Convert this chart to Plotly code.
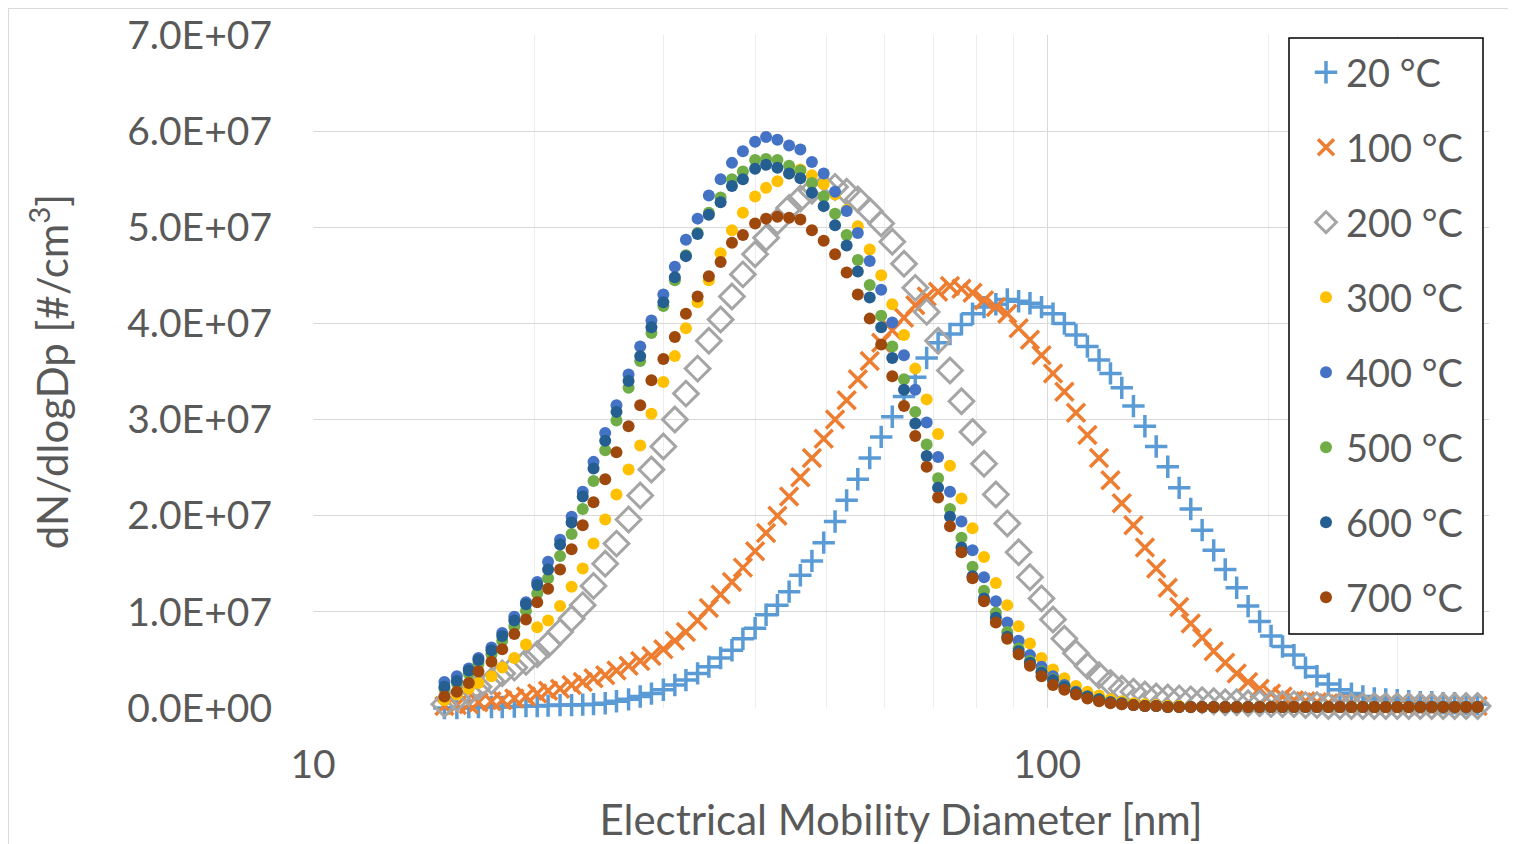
import plotly.graph_objects as go

# Electrical mobility diameter channels [nm] (SMPS, 64 channels/decade)
DP = [15.1, 15.7, 16.3, 16.8, 17.5, 18.1, 18.8, 19.5, 20.2, 20.9, 21.7, 22.5, 23.3, 24.1,
      25.0, 25.9, 26.9, 27.9, 28.9, 30.0, 31.1, 32.2, 33.4, 34.6, 35.9, 37.2, 38.5, 40.0,
      41.4, 42.9, 44.5, 46.1, 47.8, 49.6, 51.4, 53.3, 55.2, 57.3, 59.4, 61.5, 63.8, 66.1,
      68.5, 71.0, 73.7, 76.4, 79.1, 82.0, 85.1, 88.2, 91.4, 94.7, 98.2, 101.8, 105.5, 109.4,
      113.4, 117.6, 121.9, 126.3, 131.0, 135.8, 140.7, 145.9, 151.2, 156.8, 162.5, 168.5,
      174.7, 181.1, 187.7, 194.6, 201.7, 209.1, 216.7, 224.7, 232.9, 241.4, 250.3, 259.5,
      269.0, 278.8, 289.0, 299.6, 310.6, 322.0, 333.8, 346.0, 358.7, 371.8, 385.4, 399.5]

SCALE = 1e7  # values below are in units of 1E+07 #/cm3

T20 = [0.00, 0.00, 0.01, 0.01, 0.01, 0.01, 0.015, 0.02, 0.02, 0.025, 0.03, 0.03, 0.035, 0.04,
       0.05, 0.07, 0.09, 0.12, 0.15, 0.19, 0.24, 0.29, 0.36, 0.43, 0.52, 0.60, 0.72, 0.83,
       0.97, 1.07, 1.21, 1.38, 1.53, 1.72, 1.94, 2.16, 2.38, 2.60, 2.82, 3.03, 3.24, 3.44,
       3.64, 3.80, 3.89, 3.99, 4.10, 4.17, 4.20, 4.25, 4.23, 4.21, 4.17, 4.10, 4.00, 3.88,
       3.76, 3.62, 3.48, 3.33, 3.14, 2.93, 2.72, 2.51, 2.29, 2.07, 1.85, 1.64, 1.44, 1.25,
       1.06, 0.90, 0.75, 0.64, 0.55, 0.42, 0.33, 0.25, 0.19, 0.15, 0.12, 0.10, 0.09, 0.08,
       0.07, 0.06, 0.06, 0.05, 0.05, 0.04, 0.04, 0.03]

T100 = [0.02, 0.03, 0.04, 0.06, 0.07, 0.08, 0.10, 0.12, 0.15, 0.18, 0.20, 0.24, 0.27, 0.31,
        0.34, 0.39, 0.44, 0.49, 0.54, 0.61, 0.70, 0.79, 0.91, 1.04, 1.18, 1.31, 1.46, 1.63,
        1.82, 2.00, 2.20, 2.40, 2.60, 2.80, 3.00, 3.20, 3.42, 3.61, 3.80, 3.93, 4.06, 4.19,
        4.28, 4.33, 4.39, 4.36, 4.32, 4.24, 4.17, 4.10, 3.95, 3.83, 3.67, 3.48, 3.29, 3.07,
        2.84, 2.60, 2.37, 2.13, 1.90, 1.67, 1.45, 1.25, 1.05, 0.88, 0.73, 0.59, 0.47, 0.36,
        0.27, 0.20, 0.15, 0.12, 0.08, 0.07, 0.06, 0.05, 0.04, 0.04, 0.03, 0.03, 0.03, 0.02,
        0.02, 0.02, 0.02, 0.02, 0.02, 0.02, 0.02, 0.02]

T200 = [0.04, 0.10, 0.16, 0.22, 0.28, 0.36, 0.42, 0.48, 0.56, 0.66, 0.79, 0.93, 1.07, 1.27,
        1.50, 1.71, 1.96, 2.21, 2.48, 2.72, 3.00, 3.27, 3.53, 3.82, 4.04, 4.28, 4.51, 4.72,
        4.89, 5.06, 5.20, 5.30, 5.38, 5.42, 5.42, 5.37, 5.29, 5.17, 5.04, 4.85, 4.62, 4.37,
        4.12, 3.82, 3.51, 3.19, 2.87, 2.54, 2.22, 1.92, 1.62, 1.36, 1.14, 0.92, 0.72, 0.57,
        0.44, 0.34, 0.26, 0.20, 0.17, 0.14, 0.12, 0.11, 0.10, 0.09, 0.08, 0.07, 0.06, 0.06,
        0.05, 0.05, 0.04, 0.04, 0.04, 0.03, 0.03, 0.02, 0.02, 0.02, 0.02, 0.02, 0.02, 0.02,
        0.02, 0.02, 0.02, 0.02, 0.02, 0.02, 0.02, 0.02]

T300 = [0.08, 0.14, 0.20, 0.26, 0.33, 0.42, 0.52, 0.66, 0.84, 0.91, 1.06, 1.26, 1.45, 1.71,
        1.96, 2.22, 2.48, 2.73, 3.06, 3.39, 3.66, 3.95, 4.22, 4.45, 4.73, 4.97, 5.15, 5.32,
        5.41, 5.48, 5.56, 5.60, 5.54, 5.45, 5.34, 5.18, 5.01, 4.77, 4.50, 4.20, 3.88, 3.53,
        3.21, 2.85, 2.52, 2.18, 1.87, 1.57, 1.30, 1.07, 0.85, 0.67, 0.52, 0.40, 0.31, 0.23,
        0.17, 0.13, 0.09, 0.07, 0.05, 0.04, 0.03, 0.02, 0.02, 0.01, 0.01, 0.01, 0.01, 0.01,
        0.01, 0.01, 0.01, 0.01, 0.01, 0.01, 0.01, 0.01, 0.01, 0.01, 0.01, 0.01, 0.01, 0.01,
        0.01, 0.01, 0.01, 0.01, 0.01, 0.01, 0.01, 0.01]

T400 = [0.27, 0.33, 0.41, 0.52, 0.63, 0.78, 0.95, 1.10, 1.31, 1.52, 1.75, 1.99, 2.25, 2.56,
        2.86, 3.15, 3.47, 3.76, 4.03, 4.30, 4.59, 4.87, 5.09, 5.33, 5.50, 5.67, 5.79, 5.89,
        5.94, 5.91, 5.85, 5.81, 5.68, 5.56, 5.37, 5.17, 4.94, 4.65, 4.35, 4.01, 3.67, 3.31,
        2.97, 2.61, 2.25, 1.94, 1.64, 1.36, 1.11, 0.89, 0.70, 0.55, 0.43, 0.33, 0.24, 0.17,
        0.12, 0.08, 0.06, 0.04, 0.03, 0.02, 0.02, 0.01, 0.01, 0.01, 0.01, 0.01, 0.01, 0.01,
        0.01, 0.01, 0.01, 0.01, 0.01, 0.01, 0.01, 0.01, 0.01, 0.01, 0.01, 0.01, 0.01, 0.01,
        0.01, 0.01, 0.01, 0.01, 0.01, 0.01, 0.01, 0.01]

T500 = [0.20, 0.26, 0.36, 0.46, 0.56, 0.70, 0.85, 1.01, 1.19, 1.35, 1.58, 1.81, 2.07, 2.36,
        2.68, 2.99, 3.33, 3.61, 3.90, 4.18, 4.45, 4.71, 4.94, 5.15, 5.31, 5.50, 5.58, 5.70,
        5.71, 5.70, 5.64, 5.59, 5.46, 5.32, 5.14, 4.92, 4.66, 4.40, 4.08, 3.76, 3.42, 3.08,
        2.74, 2.39, 2.07, 1.77, 1.47, 1.22, 0.99, 0.79, 0.62, 0.49, 0.38, 0.30, 0.22, 0.16,
        0.12, 0.09, 0.06, 0.05, 0.03, 0.02, 0.02, 0.01, 0.01, 0.01, 0.01, 0.01, 0.01, 0.01,
        0.01, 0.01, 0.01, 0.01, 0.01, 0.01, 0.01, 0.01, 0.01, 0.01, 0.01, 0.01, 0.01, 0.01,
        0.01, 0.01, 0.01, 0.01, 0.01, 0.01, 0.01, 0.01]

T600 = [0.22, 0.28, 0.39, 0.50, 0.60, 0.75, 0.91, 1.08, 1.28, 1.44, 1.70, 1.93, 2.20, 2.49,
        2.78, 3.08, 3.40, 3.66, 3.96, 4.22, 4.48, 4.70, 4.93, 5.13, 5.26, 5.43, 5.50, 5.61,
        5.65, 5.62, 5.56, 5.51, 5.36, 5.22, 5.02, 4.81, 4.54, 4.27, 3.96, 3.64, 3.31, 2.96,
        2.62, 2.29, 1.99, 1.67, 1.37, 1.14, 0.94, 0.74, 0.59, 0.47, 0.37, 0.29, 0.22, 0.16,
        0.12, 0.09, 0.06, 0.05, 0.03, 0.02, 0.02, 0.01, 0.01, 0.01, 0.01, 0.01, 0.01, 0.01,
        0.01, 0.01, 0.01, 0.01, 0.01, 0.01, 0.01, 0.01, 0.01, 0.01, 0.01, 0.01, 0.01, 0.01,
        0.01, 0.01, 0.01, 0.01, 0.01, 0.01, 0.01, 0.01]

T700 = [0.12, 0.17, 0.26, 0.38, 0.48, 0.61, 0.77, 0.92, 1.10, 1.24, 1.44, 1.65, 1.90, 2.14,
        2.38, 2.66, 2.93, 3.15, 3.41, 3.63, 3.86, 4.10, 4.28, 4.49, 4.64, 4.84, 4.92, 5.04,
        5.09, 5.11, 5.10, 5.08, 4.97, 4.86, 4.72, 4.53, 4.30, 4.05, 3.78, 3.45, 3.14, 2.83,
        2.51, 2.19, 1.89, 1.62, 1.35, 1.11, 0.89, 0.72, 0.56, 0.44, 0.33, 0.24, 0.19, 0.14,
        0.10, 0.07, 0.05, 0.04, 0.03, 0.02, 0.02, 0.01, 0.01, 0.01, 0.01, 0.01, 0.01, 0.01,
        0.01, 0.01, 0.01, 0.01, 0.01, 0.01, 0.01, 0.01, 0.01, 0.01, 0.01, 0.01, 0.01, 0.01,
        0.01, 0.01, 0.01, 0.01, 0.01, 0.01, 0.01, 0.01]

NAMES = ["20 °C", "100 °C", "200 °C", "300 °C", "400 °C", "500 °C", "600 °C", "700 °C"]
SERIES = [T20, T100, T200, T300, T400, T500, T600, T700]

Y_TICKS = [0, 1e7, 2e7, 3e7, 4e7, 5e7, 6e7, 7e7]
Y_TICKTEXT = ["0.0E+00", "1.0E+07", "2.0E+07", "3.0E+07", "4.0E+07", "5.0E+07", "6.0E+07", "7.0E+07"]
X_TICKS = [10, 100]
X_TICKTEXT = ["10", "100"]
X_MINOR = [20, 30, 40, 50, 60, 70, 80, 90, 200, 300, 400]

STYLES = [
    dict(symbol="cross-thin", size=16, color="#5B9BD5", line=dict(color="#5B9BD5", width=3.5)),
    dict(symbol="x-thin", size=18, color="#ED7D31", line=dict(color="#ED7D31", width=3.5)),
    dict(symbol="diamond-open", size=19, color="#A5A5A5", line=dict(color="#A5A5A5", width=3)),
    dict(symbol="circle", size=12, color="#FFC000", line=dict(width=0)),
    dict(symbol="circle", size=12, color="#4472C4", line=dict(width=0)),
    dict(symbol="circle", size=12, color="#70AD47", line=dict(width=0)),
    dict(symbol="circle", size=12, color="#255E91", line=dict(width=0)),
    dict(symbol="circle", size=12, color="#9E480E", line=dict(width=0)),
]

FONT = "Lato"
TXT = "#595959"

fig = go.Figure()
for name, vals, st in zip(NAMES, SERIES, STYLES):
    fig.add_trace(go.Scatter(
        x=DP, y=[v * SCALE for v in vals], name=name, mode="markers",
        marker=st, cliponaxis=False, legendgroup=name,
    ))

# The page body has an 8 px margin; the figure starts at (8, 8) in the window.
# Work in window (screen) coordinates.
OFF = 8
VW, VH = 1516, 844
W, H = VW - OFF, VH - OFF
PL, PR, PT, PB = 313, 1489, 35, 708          # plot area in screen px
L, R, T, B = PL - OFF, (W + OFF) - PR, PT - OFF, (H + OFF) - PB
pw, ph = PR - PL, PB - PT


def px(xs):
    return (xs - PL) / pw


def py(ys):
    return (PB - ys) / ph


fig.update_layout(
    width=W, height=H, autosize=False,
    margin=dict(l=L, r=R, t=T, b=B, pad=0, autoexpand=False),
    paper_bgcolor="white", plot_bgcolor="white",
    font=dict(family=FONT, color=TXT, size=38),
    showlegend=True,
    legend=dict(
        x=px(1306), y=py(41), xanchor="left", yanchor="top",
        bgcolor="rgba(0,0,0,0)", borderwidth=0,
        font=dict(family=FONT, size=38, color=TXT),
        tracegroupgap=22.6, itemsizing="trace",
    ),
    xaxis=dict(
        type="log", range=[1, 2.6015], automargin=False,
        tickvals=X_TICKS, ticktext=X_TICKTEXT, ticks="",
        showgrid=True, gridcolor="#D9D9D9", gridwidth=1,
        minor=dict(tickvals=X_MINOR, showgrid=True, gridcolor="#EDEDED", gridwidth=1, ticks=""),
        showline=False, zeroline=False,
        tickfont=dict(family=FONT, size=39, color=TXT),
        ticklabelstandoff=30,
        title=dict(text="Electrical Mobility Diameter [nm]", standoff=20,
                   font=dict(family=FONT, size=42, color=TXT)),
    ),
    yaxis=dict(
        range=[0, 7e7], automargin=False,
        tickvals=Y_TICKS, ticktext=Y_TICKTEXT, ticks="",
        showgrid=True, gridcolor="#D9D9D9", gridwidth=1,
        showline=False, zeroline=False,
        tickfont=dict(family=FONT, size=39, color=TXT),
        ticklabelstandoff=40,
        title=dict(text="dN/dlogDp [#/cm<sup>3</sup>]", standoff=45,
                   font=dict(family=FONT, size=42, color=TXT)),
    ),
    shapes=[
        # outer chart border (left and top edges)
        dict(type="line", xref="paper", yref="paper",
             x0=px(8.5), x1=px(8.5), y0=py(844), y1=py(8.5),
             line=dict(color="#D9D9D9", width=1), layer="below"),
        dict(type="line", xref="paper", yref="paper",
             x0=px(8.5), x1=px(1516), y0=py(8.5), y1=py(8.5),
             line=dict(color="#D9D9D9", width=1), layer="below"),
        # legend frame
        dict(type="rect", xref="paper", yref="paper",
             x0=px(1289), x1=px(1483), y0=py(634), y1=py(38),
             line=dict(color="#000000", width=1.5), fillcolor="white", layer="above"),
    ],
)

fig.write_html("out.html")
